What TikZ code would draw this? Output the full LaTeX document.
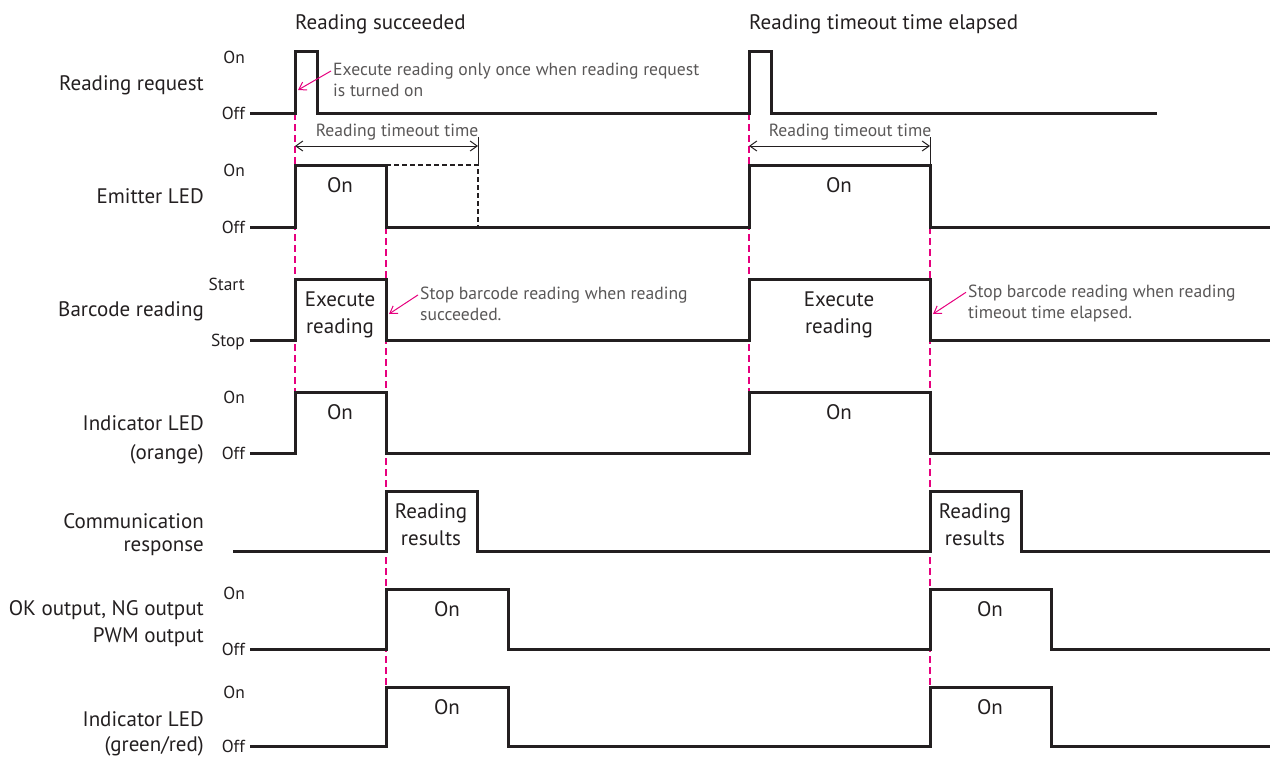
\documentclass[tikz,border=0pt]{standalone}
\usepackage{fontspec}
\setmainfont{PT Sans}
\usetikzlibrary{arrows.meta}
\definecolor{sigcol}{RGB}{35,31,32}
\definecolor{mymagenta}{RGB}{230,0,126}
\definecolor{notecol}{RGB}{89,87,87}

\tikzset{
  sig/.style={draw=sigcol, line width=3pt, line join=miter},
  guide/.style={draw=mymagenta, line width=1.3pt, dash pattern=on 7pt off 4pt},
  dimline/.style={draw=sigcol, line width=1pt, {Straight Barb[length=7pt,width=10pt]}-{Straight Barb[length=7pt,width=10pt]}},
  rowlabel/.style={anchor=east, align=right, text=sigcol, inner sep=0pt},
  lvl/.style={anchor=mid east, text=sigcol, font=\fontsize{17.4}{19}\selectfont, inner sep=0pt},
  inlbl/.style={align=center, text=sigcol, font=\fontsize{21}{27}\selectfont, inner sep=0pt},
  note/.style={anchor=west, align=left, text=notecol, font=\fontsize{17.6}{21}\selectfont, inner sep=0pt},
  pointer/.style={draw=mymagenta, line width=1pt, -{Straight Barb[length=7pt,width=9pt]}},
}

\begin{document}
\begin{tikzpicture}[x=1pt, y=-1pt]
  \useasboundingbox (0,0) rectangle (1270,758);
  % Ueberschriften
  \node[anchor=mid west, text=sigcol, font=\fontsize{21}{24}\selectfont, inner sep=0pt] (ok) at (295,27) {Reading succeeded};
  \node[anchor=mid west, text=sigcol, font=\fontsize{21}{24}\selectfont, inner sep=0pt] (tout) at (749,27) {Reading timeout time elapsed};
  % Signalnamen
  \node[rowlabel, anchor=mid east, font=\fontsize{21}{27}\selectfont] (req) at (204,88) {Reading request};
  \node[rowlabel, anchor=mid east, font=\fontsize{21}{27}\selectfont] (emit) at (204,201) {Emitter LED};
  \node[rowlabel, anchor=mid east, font=\fontsize{21}{27}\selectfont] (bcr) at (204,314) {Barcode reading};
  \node[rowlabel, font=\fontsize{21}{29}\selectfont] (ledo) at (204,440) {Indicator LED\\(orange)};
  \node[rowlabel, font=\fontsize{21}{23}\selectfont] (comm) at (204,535) {Communication\\response};
  \node[rowlabel, font=\fontsize{21}{27}\selectfont] (okng) at (204,624) {OK output, NG output\\PWM output};
  \node[rowlabel, font=\fontsize{21}{25}\selectfont] (ledg) at (204,734) {Indicator LED\\(green/red)};
  % Pegel
  \node[lvl] (l1h) at (245,61) {On};    \node[lvl] (l1l) at (245,117) {Off};
  \node[lvl] (l2h) at (245,174) {On};   \node[lvl] (l2l) at (245,231) {Off};
  \node[lvl] (l3h) at (245,288) {Start};\node[lvl] (l3l) at (245,344) {Stop};
  \node[lvl] (l4h) at (245,401) {On};   \node[lvl] (l4l) at (245,457) {Off};
  \node[lvl] (l6h) at (245,597) {On};   \node[lvl] (l6l) at (245,653) {Off};
  \node[lvl] (l7h) at (245,696) {On};   \node[lvl] (l7l) at (245,750) {Off};
  % Hilfslinien
  \draw[guide] (295,113) -- (295,392);
  \draw[guide] (386,227) -- (386,687);
  \draw[guide] (749,113) -- (749,392);
  \draw[guide] (930,227) -- (930,687);
  % Signale zeichnen
  \draw[sig] (250,113) -| (295,51) -| (317,113) -| (749,51) -| (771,113) -- (1157,113);
  \draw[sig] (250,227) -| (295,165) -| (386,227) -| (749,165) -| (930,227) -- (1270,227);
  \draw[sig] (250,340) -| (295,279) -| (386,340) -| (749,279) -| (930,340) -- (1270,340);
  \draw[sig] (250,453) -| (295,392) -| (386,453) -| (749,392) -| (930,453) -- (1270,453);
  \draw[sig] (233,551) -| (386,491) -| (477,551) -| (930,491) -| (1021,551) -- (1270,551);
  \draw[sig] (250,649) -| (386,589) -| (508,649) -| (930,589) -| (1051,649) -- (1270,649);
  \draw[sig] (250,746) -| (386,687) -| (508,746) -| (930,687) -| (1051,746) -- (1270,746);
  \draw[draw=sigcol, line width=1.2pt, dash pattern=on 5pt off 3pt] (386,165) -| (478,227);
  % Zeitmass
  \coordinate (d1s) at (295,146); \coordinate (d1e) at (478,146);
  \coordinate (d2s) at (749,146); \coordinate (d2e) at (930,146);
  \draw[dimline] (d1s) -- (d1e);
  \draw[dimline] (d2s) -- (d2e);
  \draw[draw=sigcol, line width=1pt] (478,137) -- (478,165);
  \draw[draw=sigcol, line width=1pt] (930,137) -- (930,165);
  \node[text=notecol, font=\fontsize{17.6}{20}\selectfont, inner sep=0pt] (tt1) at (397,132) {Reading timeout time};
  \node[text=notecol, font=\fontsize{17.6}{20}\selectfont, inner sep=0pt] (tt2) at (850,132) {Reading timeout time};
  % Beschriftung in den Pulsen
  \node[inlbl] (e1) at (340,185) {On};  \node[inlbl] (e2) at (839,185) {On};
  \node[inlbl] (b1) at (340,315) {Execute\\reading};  \node[inlbl] (b2) at (839,315) {Execute\\reading};
  \node[inlbl] (o1) at (340,412) {On};  \node[inlbl] (o2) at (839,412) {On};
  \node[inlbl] (c1) at (431,525) {Reading\\results};  \node[inlbl] (c2) at (975,525) {Reading\\results};
  \node[inlbl] (k1) at (447,609) {On};  \node[inlbl] (k2) at (990,609) {On};
  \node[inlbl] (g1) at (447,707) {On};  \node[inlbl] (g2) at (990,707) {On};
  % Hinweise
  \node[note] (n1) at (333,80) {Execute reading only once when reading request\\is turned on};
  \node[note] (n2) at (420,304) {Stop barcode reading when reading\\succeeded.};
  \node[note] (n3) at (968,303) {Stop barcode reading when reading\\timeout time elapsed.};
  \coordinate (p1) at (298,90);
  \coordinate (p2) at (389,314);
  \coordinate (p3) at (933,314);
  \draw[pointer] ([shift={(-2pt,-8pt)}]n1.north west) -- (p1);
  \draw[pointer] ([shift={(-2pt,-8pt)}]n2.north west) -- (p2);
  \draw[pointer] ([shift={(-2pt,-8pt)}]n3.north west) -- (p3);
\end{tikzpicture}
\end{document}
